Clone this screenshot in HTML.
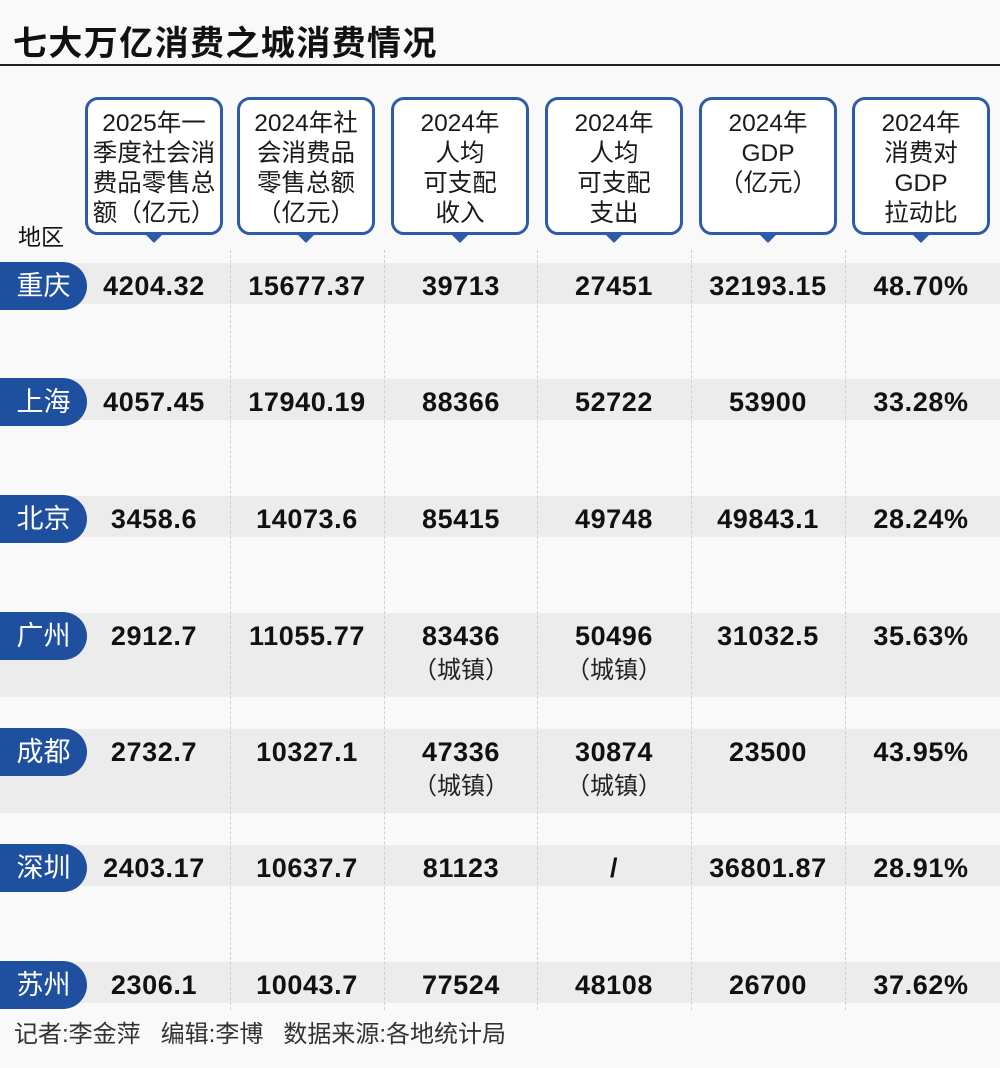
<!DOCTYPE html>
<html><head><meta charset="utf-8">
<style>
body{margin:0;}
#page{position:relative;width:1000px;height:1068px;background:#f9f9f9;overflow:hidden;font-family:"Liberation Sans","Noto Sans CJK SC",sans-serif;color:#111;}
.abs{position:absolute;}
#title{left:13px;top:22px;font-size:34px;font-weight:bold;line-height:44px;letter-spacing:1.4px;}
#rule{left:0;top:64px;width:1000px;height:2px;background:#222;}
.hbox{position:absolute;top:97px;height:138px;border:3px solid #2d5ba8;border-radius:13px;background:#fff;box-sizing:border-box;text-align:center;font-size:24.5px;line-height:30px;padding-top:9px;color:#1a1a1a;white-space:nowrap;}
.tri{position:absolute;bottom:-11px;left:50%;margin-left:-9px;width:0;height:0;border-left:9px solid transparent;border-right:9px solid transparent;border-top:9px solid #2d5ba8;}
#region-label{left:18px;top:222px;font-size:23px;line-height:30px;}
.band{position:absolute;left:0;width:1000px;background:#ececec;}
.pill{position:absolute;left:0;width:87px;height:48px;background:#1f4f9f;border-radius:0 24px 24px 0;color:#fff;font-size:27px;line-height:48px;text-align:center;}
.cell{position:absolute;text-align:center;font-size:27px;font-weight:bold;line-height:30px;width:160px;letter-spacing:0.6px;}
.sub{position:absolute;text-align:center;font-size:24px;line-height:30px;width:160px;color:#222;}
.vline{position:absolute;top:250px;height:760px;width:0;border-left:1px dashed #cfcfcf;}
#footer{left:14px;top:1020px;font-size:24px;line-height:30px;color:#333;}
</style></head>
<body>
<div id="page">
<div id="title" class="abs">七大万亿消费之城消费情况</div>
<div id="rule" class="abs"></div>
<div id="region-label" class="abs">地区</div>
<div id="footer" class="abs">记者:李金萍&nbsp;&nbsp;&nbsp;编辑:李博&nbsp;&nbsp;&nbsp;数据来源:各地统计局</div>
</div>
<script>
const headers=["2025年一<br>季度社会消<br>费品零售总<br>额（亿元）","2024年社<br>会消费品<br>零售总额<br>（亿元）","2024年<br>人均<br>可支配<br>收入","2024年<br>人均<br>可支配<br>支出","2024年<br>GDP<br>（亿元）","2024年<br>消费对<br>GDP<br>拉动比"];
const cities=["重庆","上海","北京","广州","成都","深圳","苏州"];
const retailQ1=["4204.32","4057.45","3458.6","2912.7","2732.7","2403.17","2306.1"];
const retail2024=["15677.37","17940.19","14073.6","11055.77","10327.1","10637.7","10043.7"];
const income=["39713","88366","85415","83436","47336","81123","77524"];
const expense=["27451","52722","49748","50496","30874","/","48108"];
const gdp=["32193.15","53900","49843.1","31032.5","23500","36801.87","26700"];
const ratio=["48.70%","33.28%","28.24%","35.63%","43.95%","28.91%","37.62%"];
const incomeNote=["","","","（城镇）","（城镇）","",""];
const expenseNote=["","","","（城镇）","（城镇）","",""];
const page=document.getElementById('page');
const colLeft=[85,237,391,545,699,852], colW=[138,138,138,138,138,138];
const centers=[154,307,461,614,768,921];
const rowCenters=[286,402,519,636,752,868,985];
function mk(cls,name){const d=document.createElement('div');d.className=cls;


page.appendChild(d);return d;}
cities.forEach((c,i)=>{
  const b=mk('band','row-band');
  const two=incomeNote[i]||expenseNote[i];
  b.style.top=(rowCenters[i]-23)+'px';b.style.height=(two?84:41)+'px';
});
[230,384,537,691,845].forEach(x=>{const v=mk('vline','column-divider');v.style.left=x+'px';});
headers.forEach((h,i)=>{
  const b=mk('hbox','column-header');b.style.left=colLeft[i]+'px';b.style.width=colW[i]+'px';b.innerHTML=h;
  const t=document.createElement('div');t.className='tri';
  
  
  b.appendChild(t);
});
const cols=[retailQ1,retail2024,income,expense,gdp,ratio];
const notes=[null,null,incomeNote,expenseNote,null,null];
cities.forEach((c,i)=>{
  const p=mk('pill','city-label');p.textContent=c;p.style.top=(rowCenters[i]-24)+'px';
  cols.forEach((arr,j)=>{
    const d=mk('cell','value-cell');d.textContent=arr[i];
    d.style.left=(centers[j]-80)+'px';d.style.top=(rowCenters[i]-15)+'px';
    if(notes[j]&&notes[j][i]){const s=mk('sub','value-note');s.textContent=notes[j][i];
      s.style.left=(centers[j]-80)+'px';s.style.top=(rowCenters[i]+20)+'px';}
  });
});
</script>
</body></html>
